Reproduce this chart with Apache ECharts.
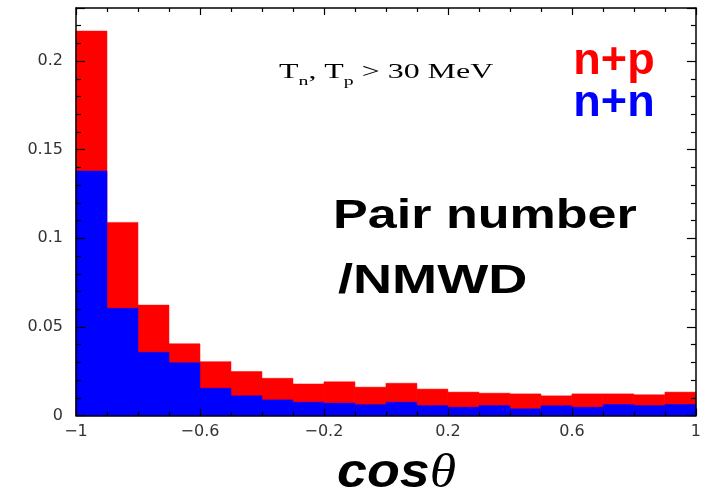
<!DOCTYPE html>
<html>
<head>
<meta charset="utf-8">
<script src="https://cdn.jsdelivr.net/npm/echarts@6/dist/echarts.min.js"></script>
<style>
  html, body { margin: 0; padding: 0; background: #fff; }
  #chart { width: 704px; height: 493px; }
</style>
</head>
<body>
<div id="chart"></div>
<script>
// Bin edges of the cos(theta) histogram (20 bins of width 0.1)
const binEdges = [-1, -0.9, -0.8, -0.7, -0.6, -0.5, -0.4, -0.3, -0.2, -0.1, 0,
                  0.1, 0.2, 0.3, 0.4, 0.5, 0.6, 0.7, 0.8, 0.9, 1];

// Pair number per NMWD, n+p pairs
const npValues = [0.217, 0.109, 0.0623, 0.0405, 0.0304, 0.0248, 0.021, 0.0178, 0.019, 0.016,
                  0.0182, 0.0149, 0.0132, 0.0126, 0.0122, 0.0111, 0.0122, 0.0122, 0.0117, 0.0132];

// Pair number per NMWD, n+n pairs
const nnValues = [0.138, 0.0605, 0.0357, 0.0298, 0.0154, 0.0111, 0.0088, 0.0075, 0.007, 0.0061,
                  0.0075, 0.0056, 0.0047, 0.0056, 0.0038, 0.0055, 0.0047, 0.0062, 0.0056, 0.0062];

// Axis tick labels
const xTickLabels = ['-1', '-0.6', '-0.2', '0.2', '0.6', '1'];
const yTickLabels = ['0', '0.05', '0.1', '0.15', '0.2'];

function histData(values) {
  return values.map((v, i) => [binEdges[i], binEdges[i + 1], v]);
}

function renderBin(color) {
  return function (params, api) {
    const lo = api.value(0), hi = api.value(1), v = api.value(2);
    const p0 = api.coord([lo, 0]);
    const p1 = api.coord([hi, v]);
    return {
      type: 'rect',
      shape: { x: p0[0], y: p1[1], width: p1[0] - p0[0], height: p0[1] - p1[1] },
      style: { fill: color, stroke: color, lineWidth: 0.5 }
    };
  };
}

const labelFont = { color: '#333', fontFamily: 'DejaVu Sans', fontSize: 16 };
const frameLine = { show: true, onZero: false, lineStyle: { color: '#000', width: 1.5 } };

function xAxisDef(position, showLabel) {
  return {
    type: 'value', position: position, min: -1, max: 1, interval: 0.4, z: 10,
    axisLine: frameLine,
    axisTick: { show: true, inside: true, length: 7, lineStyle: { color: '#000', width: 1.2 } },
    minorTick: { show: true, splitNumber: 4, length: 4, lineStyle: { color: '#000', width: 1.2 } },
    splitLine: { show: false },
    axisLabel: Object.assign({
      show: showLabel, margin: 8,
      formatter: function (v) {
        const s = String(Math.round(v * 10) / 10);
        return xTickLabels.indexOf(s) >= 0 ? s.replace('-', '\u2212') : '';
      }
    }, labelFont)
  };
}

function yAxisDef(position, showLabel) {
  return {
    type: 'value', position: position, min: 0, max: 0.23, interval: 0.05, z: 10,
    axisLine: frameLine,
    axisTick: { show: true, inside: true, length: 9, lineStyle: { color: '#000', width: 1.2 } },
    minorTick: { show: true, splitNumber: 5, length: 5, lineStyle: { color: '#000', width: 1.2 } },
    splitLine: { show: false },
    axisLabel: Object.assign({
      show: showLabel, margin: 13,
      formatter: function (v) {
        const s = String(Math.round(v * 100) / 100);
        return yTickLabels.indexOf(s) >= 0 ? s : '';
      }
    }, labelFont)
  };
}

const chart = echarts.init(document.getElementById('chart'), null, { renderer: 'canvas' });

chart.setOption({
  animation: false,
  backgroundColor: '#fff',
  grid: { left: 76, right: 7, top: 8, bottom: 77.5, containLabel: false },
  xAxis: [xAxisDef('bottom', true), xAxisDef('top', false)],
  yAxis: [yAxisDef('left', true), yAxisDef('right', false)],
  series: [
    {
      name: 'n+p', type: 'custom', xAxisIndex: 0, yAxisIndex: 0, z: 2,
      renderItem: renderBin('#ff0000'), data: histData(npValues)
    },
    {
      name: 'n+n', type: 'custom', xAxisIndex: 0, yAxisIndex: 0, z: 3,
      renderItem: renderBin('#0000ff'), data: histData(nnValues)
    }
  ],
  graphic: [
    {
      type: 'text', x: 279, y: 62, scaleX: 1.52, z: 20,
      style: {
        text: '{t|T}{s|n}{t|, T}{s|p}{t| > 30 MeV}',
        rich: {
          t: { fontFamily: 'Liberation Serif', fontSize: 21, color: '#222', lineHeight: 24, verticalAlign: 'top' },
          s: { fontFamily: 'Liberation Serif', fontSize: 13, color: '#222', lineHeight: 13, verticalAlign: 'bottom', padding: [0, 0, -2, 0] }
        },
        verticalAlign: 'top', align: 'left'
      }
    },
    {
      type: 'text', x: 614, y: 62, z: 20,
      style: { text: 'n+p', fill: '#ff0000', font: 'bold 45px "Liberation Sans"', align: 'center', verticalAlign: 'middle' }
    },
    {
      type: 'text', x: 614, y: 104, z: 20,
      style: { text: 'n+n', fill: '#0000ff', font: 'bold 45px "Liberation Sans"', align: 'center', verticalAlign: 'middle' }
    },
    {
      type: 'text', x: 333, y: 217, scaleX: 1.27, z: 20,
      style: {
        text: 'Pair number', fill: '#000', font: 'bold 41px "Liberation Sans"',
        align: 'left', verticalAlign: 'middle',
        shadowColor: 'rgba(0,0,0,0.4)', shadowOffsetX: 3, shadowOffsetY: 3, shadowBlur: 2
      }
    },
    {
      type: 'text', x: 338, y: 282, scaleX: 1.32, z: 20,
      style: {
        text: '/NMWD', fill: '#000', font: 'bold 41px "Liberation Sans"',
        align: 'left', verticalAlign: 'middle',
        shadowColor: 'rgba(0,0,0,0.4)', shadowOffsetX: 3, shadowOffsetY: 3, shadowBlur: 2
      }
    },
    {
      type: 'text', x: 337, y: 474, scaleX: 1.12, z: 20,
      style: {
        text: '{a|cos}{b|\u03b8}',
        rich: {
          a: { fontFamily: 'Liberation Sans', fontWeight: 'bold', fontStyle: 'italic', fontSize: 48, color: '#000' },
          b: { fontFamily: 'Liberation Serif', fontStyle: 'italic', fontSize: 48, color: '#000' }
        },
        align: 'left', verticalAlign: 'middle'
      }
    }
  ]
});
</script>
</body>
</html>
